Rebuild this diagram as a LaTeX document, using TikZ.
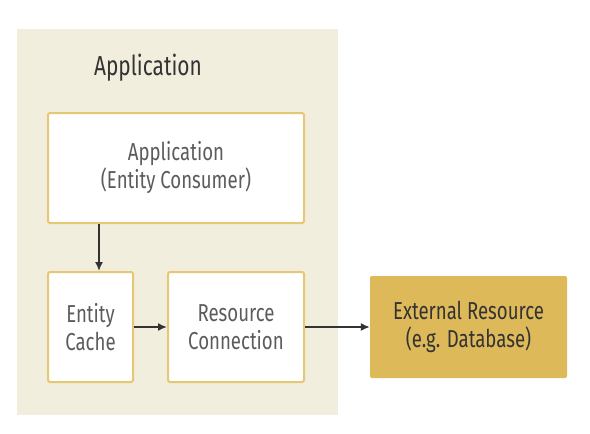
\documentclass[tikz,border=0pt]{standalone}
\usepackage{fontspec}
\setmainfont{Fira Sans}[FakeStretch=0.76]
\usetikzlibrary{arrows.meta}
\definecolor{panelbg}{HTML}{F1EEDD}
\definecolor{boxedge}{HTML}{E6C872}
\definecolor{extfill}{HTML}{DDB95A}
\definecolor{txtgray}{HTML}{5C5C5C}
\definecolor{txtdark}{HTML}{333333}
\begin{document}
\begin{tikzpicture}[x=1pt, y=-1pt, >={Latex[length=9pt,width=8pt]},
    box/.style={draw=boxedge, line width=2pt, fill=white, rounded corners=1.5pt,
        align=center, text=txtgray, inner sep=0pt, font=\fontsize{24.5}{28}\selectfont},
    extbox/.style={fill=extfill, rounded corners=2pt, align=center, text=txtdark,
        inner sep=0pt, font=\fontsize{24.5}{28}\selectfont},
    flow/.style={->, line width=1.6pt, draw=txtdark}]
\useasboundingbox[fill=white] (0,0) rectangle (590,434);
% Draw application panel
\fill[panelbg] (17,29) rectangle (338,415);
\node[text=txtdark, font=\fontsize{27.5}{30}\selectfont] (title) at (148,68) {Application};
% Draw boxes
\node[box, minimum width=256pt, minimum height=110pt] (consumer) at (176,168)
    {Application\\(Entity Consumer)};
\node[box, minimum width=85pt, minimum height=110pt] (cache) at (90.5,327)
    {Entity\\Cache};
\node[box, minimum width=136pt, minimum height=110pt] (conn) at (236,327)
    {Resource\\Connection};
\node[extbox, minimum width=197pt, minimum height=102pt] (ext) at (468.5,327)
    {External Resource\\(e.g. Database)};
% Draw arrows
\draw[flow] (consumer.south -| 99,0) -- (cache.north -| 99,0);
\draw[flow] (cache) -- (conn);
\draw[flow] (conn) -- (ext);
\end{tikzpicture}
\end{document}
